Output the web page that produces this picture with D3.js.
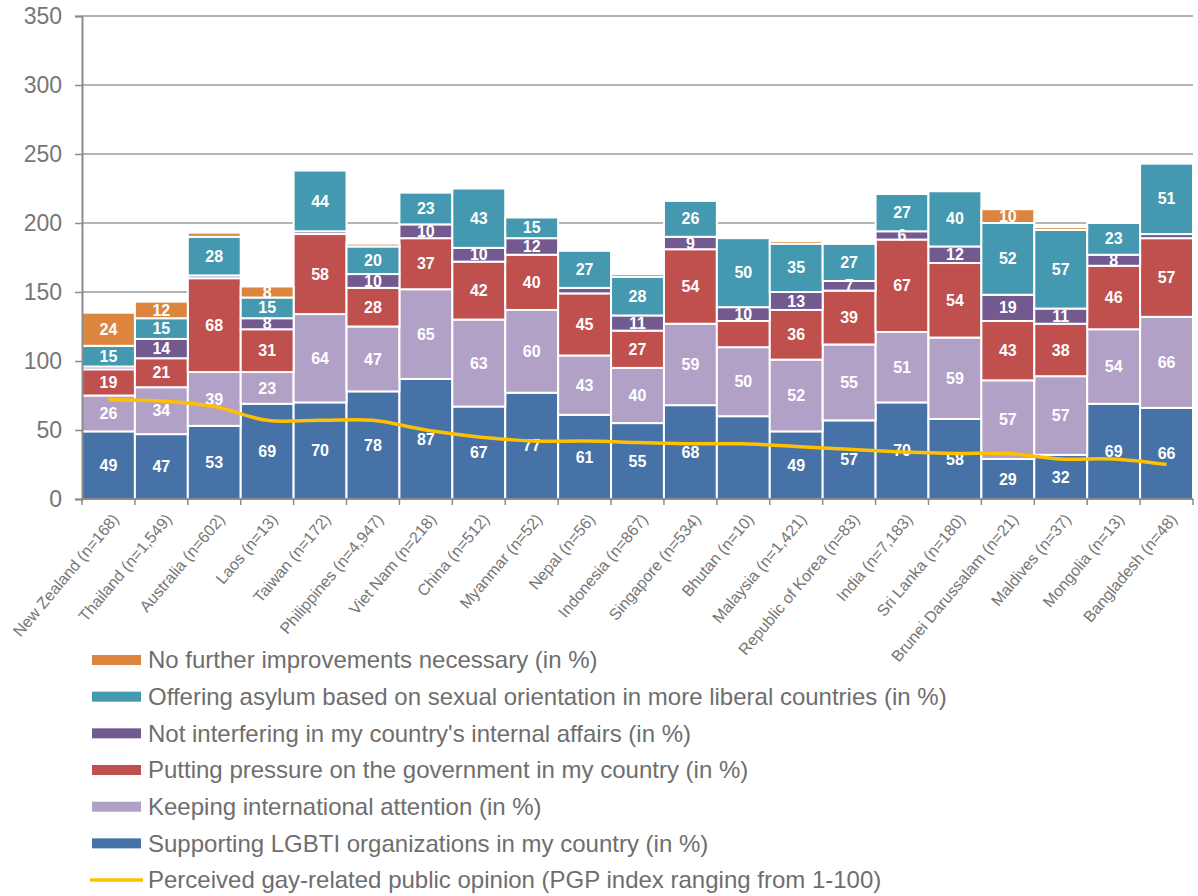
<!DOCTYPE html>
<html>
<head>
<meta charset="utf-8">
<script src="https://cdn.jsdelivr.net/npm/d3@7"></script>
<style>
  body { margin: 0; background: #fff; }
  text { font-family: "Liberation Sans", Arial, sans-serif; }
</style>
</head>
<body>
<svg id="chart"></svg>
<script>
// categories (x axis)
var countries = ["New Zealand (n=168)", "Thailand (n=1,549)", "Australia (n=602)", "Laos (n=13)",
    "Taiwan (n=172)", "Philippines (n=4,947)", "Viet Nam (n=218)", "China (n=512)", "Myanmar (n=52)",
    "Nepal (n=56)", "Indonesia (n=867)", "Singapore (n=534)", "Bhutan (n=10)", "Malaysia (n=1,421)",
    "Republic of Korea (n=83)", "India (n=7,183)", "Sri Lanka (n=180)", "Brunei Darussalam (n=21)",
    "Maldives (n=37)", "Mongolia (n=13)", "Bangladesh (n=48)"];

// stacked series, bottom to top
var supporting     = [49, 47, 53, 69, 70, 78, 87, 67, 77, 61, 55, 68, 60, 49, 57, 70, 58, 29, 32, 69, 66];
var keeping        = [26, 34, 39, 23, 64, 47, 65, 63, 60, 43, 40, 59, 50, 52, 55, 51, 59, 57, 57, 54, 66];
var pressure       = [19, 21, 68, 31, 58, 28, 37, 42, 40, 45, 27, 54, 19, 36, 39, 67, 54, 43, 38, 46, 57];
var notInterfering = [2, 14, 2, 8, 2, 10, 10, 10, 12, 4, 11, 9, 10, 13, 7, 6, 12, 19, 11, 8, 3];
var asylum         = [15, 15, 28, 15, 44, 20, 23, 43, 15, 27, 28, 26, 50, 35, 27, 27, 40, 52, 57, 23, 51];
var noFurther      = [24, 12, 3, 8, 0, 2, 0, 0, 0, 1, 2, 0, 0, 2, 1, 0, 0, 10, 2, 0, 0];

// line series
var pgp = [72, 71, 67, 57, 57, 57, 50, 45, 42, 42, 41, 40, 40, 38, 36, 34, 33, 33, 29, 29, 25];

var yTicks = [0, 50, 100, 150, 200, 250, 300, 350];

var seriesNames = ["Supporting LGBTI organizations in my country (in %)",
    "Keeping international attention (in %)",
    "Putting pressure on the government in my country (in %)",
    "Not interfering in my country's internal affairs (in %)",
    "Offering asylum based on sexual orientation in more liberal countries (in %)",
    "No further improvements necessary (in %)"];
var lineName = "Perceived gay-related public opinion (PGP index ranging from 1-100)";

// labels that the original leaves off
var hiddenLabels = ["Bhutan (n=10)|0", "Bhutan (n=10)|2"];

var seriesValues = [supporting, keeping, pressure, notInterfering, asylum, noFurther];
var colors = ["#4672a7", "#b2a1c7", "#c0504d", "#725990", "#4498af", "#dc853e"];

var width = 1198, height = 896;
var svg = d3.select("#chart").attr("width", width).attr("height", height);

var x = d3.scaleBand().domain(countries).range([82, 1193]).padding(0);
var y = d3.scaleLinear().domain([0, 350]).range([499, 16]);

// table for the stack
var rows = countries.map(function(c, i) {
    var r = { country: c };
    seriesValues.forEach(function(s, k) { r[k] = s[i]; });
    return r;
});
var stack = d3.stack().keys(d3.range(seriesValues.length))(rows);

// gridlines
svg.append("g").selectAll("line")
    .data(yTicks.filter(function(t) { return t > 0; }))
    .enter().append("line")
    .attr("x1", 82).attr("x2", 1193)
    .attr("y1", function(d) { return y(d); })
    .attr("y2", function(d) { return y(d); })
    .attr("stroke", "#9b9b9b")
    .attr("stroke-width", 1.5);

// bars
var layers = svg.append("g").selectAll("g")
    .data(stack)
    .enter().append("g")
    .attr("fill", function(d, k) { return colors[k]; });

layers.selectAll("rect")
    .data(function(d) { return d; })
    .enter().append("rect")
    .attr("x", function(d) { return x(d.data.country); })
    .attr("width", x.bandwidth())
    .attr("y", function(d) { return y(d[1]); })
    .attr("height", function(d) { return y(d[0]) - y(d[1]); })
    .attr("stroke", "#fff")
    .attr("stroke-width", 2);

// data labels
stack.forEach(function(layer, k) {
    svg.append("g").selectAll("text")
        .data(layer.filter(function(d) {
            var v = d[1] - d[0];
            return v >= 5 && hiddenLabels.indexOf(d.data.country + "|" + k) < 0;
        }))
        .enter().append("text")
        .attr("x", function(d) { return x(d.data.country) + x.bandwidth() / 2; })
        .attr("y", function(d) { return y((d[0] + d[1]) / 2); })
        .attr("dy", "0.35em")
        .attr("text-anchor", "middle")
        .attr("fill", "#fff")
        .style("font-size", "16px")
        .style("font-weight", "bold")
        .text(function(d) { return d[1] - d[0]; });
});

// PGP line
var line = d3.line()
    .x(function(d, i) { return x(countries[i]) + x.bandwidth() / 2; })
    .y(function(d) { return y(d); })
    .curve(d3.curveCatmullRom.alpha(0.5));

svg.append("path")
    .datum(pgp)
    .attr("fill", "none")
    .attr("stroke", "#ffc000")
    .attr("stroke-width", 3.5)
    .attr("d", line);

// y axis
var yAxis = svg.append("g")
    .attr("transform", "translate(82,0)")
    .call(d3.axisLeft(y).tickValues(yTicks).tickSize(7).tickPadding(13));
yAxis.select(".domain").attr("stroke", "#8c8c8c").attr("stroke-width", 2);
yAxis.selectAll(".tick line").attr("stroke", "#8c8c8c").attr("stroke-width", 1.5);
yAxis.selectAll(".tick text")
    .attr("fill", "#767676")
    .style("font-size", "23px")
    .style("font-family", "'Liberation Sans', Arial, sans-serif");

// x axis
var xAxis = svg.append("g").attr("transform", "translate(0,499)");
xAxis.append("line")
    .attr("x1", 82).attr("x2", 1193)
    .attr("stroke", "#8c8c8c").attr("stroke-width", 2);
xAxis.selectAll(".xtick")
    .data(countries.map(function(c) { return x(c); }).concat([1193]))
    .enter().append("line")
    .attr("class", "xtick")
    .attr("x1", function(d) { return d; }).attr("x2", function(d) { return d; })
    .attr("y1", 0).attr("y2", 6)
    .attr("stroke", "#8c8c8c").attr("stroke-width", 1.5);
xAxis.selectAll(".xlabel")
    .data(countries)
    .enter().append("text")
    .attr("class", "xlabel")
    .attr("transform", function(d) {
        return "translate(" + (x(d) + x.bandwidth() / 2 + 7) + ",17) rotate(-50)";
    })
    .attr("dy", "0.35em")
    .attr("text-anchor", "end")
    .attr("fill", "#767676")
    .style("font-size", "16px")
    .text(function(d) { return d; });

// legend
var legendItems = d3.range(seriesNames.length).reverse().map(function(k) {
    return { name: seriesNames[k], color: colors[k], type: "rect" };
}).concat([{ name: lineName, color: "#ffc000", type: "line" }]);

var legend = svg.append("g").selectAll("g")
    .data(legendItems)
    .enter().append("g")
    .attr("transform", function(d, i) { return "translate(92," + (660 + i * 36.67) + ")"; });

legend.filter(function(d) { return d.type === "rect"; })
    .append("rect")
    .attr("x", 0).attr("y", -5)
    .attr("width", 49).attr("height", 10)
    .attr("fill", function(d) { return d.color; });

legend.filter(function(d) { return d.type === "line"; })
    .append("line")
    .attr("x1", -2).attr("x2", 51)
    .attr("stroke", function(d) { return d.color; })
    .attr("stroke-width", 3.5);

legend.append("text")
    .attr("x", 56)
    .attr("dy", "0.35em")
    .attr("fill", "#6e6e6e")
    .style("font-size", "24px")
    .text(function(d) { return d.name; });
</script>
</body>
</html>
